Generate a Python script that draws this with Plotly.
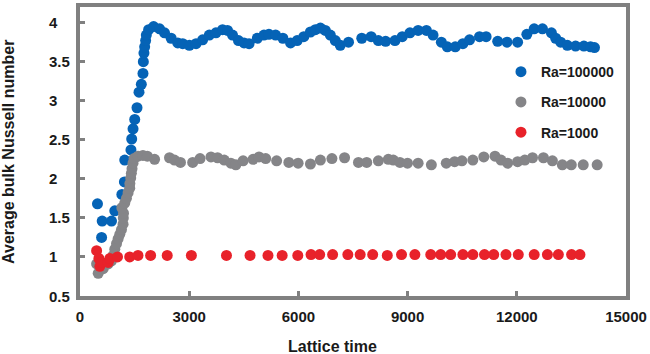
import plotly.graph_objects as go

# ---- data ----
t_ra1e5 = [480, 593, 609, 866, 956, 1150, 1220, 1229, 1400, 1420, 1457, 1503, 1566, 1621, 1685,
           1730, 1740, 1757, 1776, 1803, 1822, 1885, 2022, 2186, 2322, 2504, 2686, 2823, 3005,
           3188, 3369, 3552, 3735, 3916, 4053, 4190, 4354, 4508, 4645, 4872, 5054, 5191, 5374,
           5574, 5784, 5966, 6148, 6330, 6467, 6604, 6740, 6877, 7014, 7150, 7377, 7741, 7998,
           8197, 8397, 8653, 8853, 9064, 9289, 9517, 9699, 9927, 10091, 10310, 10519, 10702,
           10975, 11157, 11475, 11730, 12022, 12276, 12477, 12705, 12951, 13068, 13205, 13388,
           13615, 13843, 14025, 14134]
nu_ra1e5 = [1.68, 1.25, 1.46, 1.46, 1.59, 1.80, 1.96, 2.24, 2.37, 2.51, 2.64, 2.76, 2.91, 3.11, 3.21,
            3.35, 3.50, 3.61, 3.69, 3.77, 3.84, 3.91, 3.95, 3.92, 3.87, 3.80, 3.74, 3.73, 3.71,
            3.73, 3.78, 3.84, 3.87, 3.91, 3.90, 3.84, 3.77, 3.74, 3.73, 3.80, 3.84, 3.85, 3.84,
            3.80, 3.74, 3.77, 3.82, 3.88, 3.91, 3.93, 3.90, 3.84, 3.77, 3.71, 3.75, 3.80, 3.82,
            3.77, 3.76, 3.77, 3.82, 3.87, 3.90, 3.90, 3.84, 3.75, 3.69, 3.69, 3.73, 3.78,
            3.82, 3.82, 3.76, 3.75, 3.75, 3.85, 3.92, 3.92, 3.87, 3.80, 3.75, 3.71,
            3.70, 3.70, 3.69, 3.68]

t_ra1e4 = [456, 500, 637, 773, 866, 910, 956, 1003, 1046, 1093, 1139, 1183, 1190, 1195, 1150,
           1229, 1276, 1320, 1366, 1370, 1393, 1411, 1429, 1456, 1484, 1593, 1729, 1850, 2049,
           2459, 2596, 2760, 3096, 3298, 3598, 3779, 3962, 4145, 4281, 4481, 4754, 4918, 5101,
           5402, 5738, 5992, 6331, 6604, 6921, 7268, 7650, 7877, 8197, 8470, 8606, 8790, 8997,
           9289, 9653, 10063, 10292, 10492, 10792, 11093, 11401, 11566, 11748, 12022, 12221,
           12432, 12732, 12978, 13251, 13497, 13825, 14208]
nu_ra1e4 = [0.91, 0.79, 0.85, 0.91, 0.95, 1.02, 1.10, 1.17, 1.23, 1.29, 1.35, 1.42, 1.50, 1.56, 1.63,
            1.69, 1.75, 1.82, 1.88, 1.94, 2.01, 2.07, 2.13, 2.20, 2.26, 2.29, 2.30, 2.29, 2.25,
            2.27, 2.24, 2.21, 2.21, 2.26, 2.28, 2.27, 2.24, 2.20, 2.18, 2.23, 2.25, 2.28, 2.26,
            2.23, 2.21, 2.20, 2.19, 2.24, 2.26, 2.27, 2.21, 2.21, 2.23, 2.25, 2.24, 2.21, 2.20,
            2.20, 2.18, 2.20, 2.22, 2.23, 2.24, 2.28, 2.29, 2.24, 2.20, 2.22, 2.24,
            2.27, 2.27, 2.23, 2.18, 2.18, 2.18, 2.18]

t_ra1e3 = [456, 519, 546, 593, 773, 820, 1030, 1366, 1593, 1940, 2396, 3060, 4024, 4672, 5164,
           5554, 5983, 6347, 6585, 6940, 7358, 7697, 8041, 8442, 8833, 9200, 9636, 9910, 10183,
           10519, 10792, 11112, 11366, 11702, 12041, 12478, 12841, 13142, 13505, 13735]
nu_ra1e3 = [1.08, 0.98, 0.88, 0.93, 0.93, 0.98, 1.00, 1.00, 1.02, 1.02, 1.02, 1.02, 1.02, 1.02, 1.02,
            1.02, 1.02, 1.03, 1.03, 1.03, 1.03, 1.03, 1.03, 1.02, 1.03, 1.03, 1.03, 1.03, 1.03,
            1.03, 1.03, 1.03, 1.03, 1.03, 1.03, 1.03, 1.03, 1.03, 1.03, 1.03]

series_names = ["Ra=100000", "Ra=10000", "Ra=1000"]
x_ticks = [0, 3000, 6000, 9000, 12000, 15000]
y_ticks = [0.5, 1, 1.5, 2, 2.5, 3, 3.5, 4]

FONT = "Liberation Sans, Arial, sans-serif"
FRAME = "#808080"
TEXT = "#1a1a1a"
colors = ["#0563b6", "#858588", "#e8222a"]

fig = go.Figure()
for name, xs, ys, c in zip(series_names, [t_ra1e5, t_ra1e4, t_ra1e3],
                           [nu_ra1e5, nu_ra1e4, nu_ra1e3], colors):
    fig.add_trace(go.Scatter(x=xs, y=ys, mode="markers", name=name, legendgroup=name,
                             marker=dict(color=c, size=11, line=dict(width=0))))

# y tick labels (left aligned as in the reference)
for v in y_ticks:
    fig.add_annotation(x=-0.0601, y=v, xref="paper", yref="y", text=f"<b>{v:g}</b>",
                       showarrow=False, xanchor="left", yanchor="middle",
                       font=dict(family=FONT, size=15, color=TEXT))

fig.add_annotation(x=-0.131, y=0.5, xref="paper", yref="paper",
                   text="<b>Average bulk Nussell number</b>", textangle=-90,
                   showarrow=False, xanchor="center", yanchor="middle",
                   font=dict(family=FONT, size=16, color=TEXT))
fig.add_annotation(x=0.463, y=-0.175, xref="paper", yref="paper",
                   text="<b>Lattice time</b>", showarrow=False,
                   xanchor="center", yanchor="middle",
                   font=dict(family=FONT, size=16, color=TEXT))

fig.update_layout(
    width=650, height=354,
    margin=dict(l=80, r=21, t=3, b=58),
    paper_bgcolor="white", plot_bgcolor="white",
    font=dict(family=FONT, size=15, color=TEXT),
    showlegend=True,
    legend=dict(x=0.771, y=0.83, xanchor="left", yanchor="top",
                traceorder="grouped", tracegroupgap=9,
                bgcolor="rgba(0,0,0,0)",
                font=dict(family=FONT, size=14, color=TEXT, weight="bold")),
)
fig.update_xaxes(range=[0, 15000], tickvals=x_ticks,
                 ticktext=[f"<b>{v}</b>" for v in x_ticks],
                 showgrid=False, zeroline=False,
                 showline=True, linecolor=FRAME, linewidth=4, mirror=True,
                 ticks="inside", ticklen=5, tickwidth=3, tickcolor=FRAME,
                 ticklabelstandoff=4,
                 tickfont=dict(family=FONT, size=15, color=TEXT))
fig.update_yaxes(range=[0.5, 4.2], tickvals=y_ticks, showticklabels=False,
                 showgrid=False, zeroline=False,
                 showline=True, linecolor=FRAME, linewidth=4, mirror=True,
                 ticks="inside", ticklen=5, tickwidth=3, tickcolor=FRAME)

fig.write_html("out.html")
